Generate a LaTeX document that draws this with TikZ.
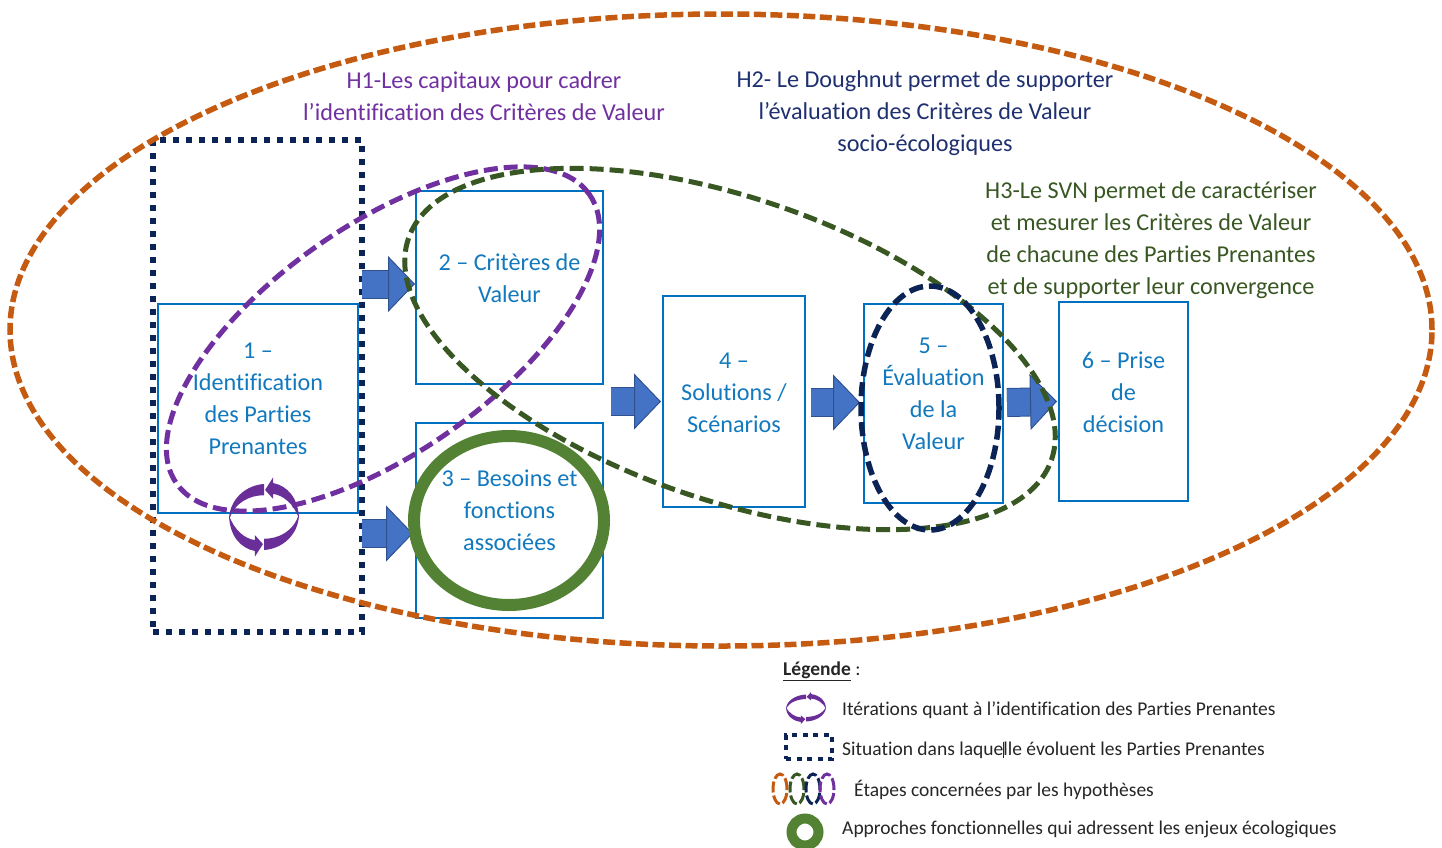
\documentclass[tikz,border=0pt]{standalone}
\usepackage{fontspec}
\setmainfont{Carlito}[Ligatures=NoCommon]
\usepackage{xcolor}
\usetikzlibrary{shapes,arrows.meta,positioning,calc}

\definecolor{hypoorange}{HTML}{C55A11}
\definecolor{hypopurple}{HTML}{7030A0}
\definecolor{hypogreen}{HTML}{385723}
\definecolor{hyponavy}{HTML}{0C2355}
\definecolor{boxblue}{HTML}{0070C0}
\definecolor{textblue}{HTML}{1279BE}
\definecolor{ringgreen}{HTML}{548235}
\definecolor{blockblue}{HTML}{4472C4}
\definecolor{blockedge}{HTML}{2F528F}
\definecolor{titlenavy}{HTML}{1F3070}
\definecolor{legendtext}{HTML}{262626}

\tikzset{
    stepbox/.style={draw=boxblue, line width=2pt, inner sep=0pt},
    steptext/.style={text=textblue, align=center, font=\fontsize{24.2}{32}\selectfont},
    hypotext/.style={align=center, font=\fontsize{24.2}{32}\selectfont},
    legendlabel/.style={anchor=west, inner sep=0pt, text=legendtext, font=\fontsize{19.5}{20}\selectfont},
    hypoloop/.style={ellipse, draw=#1, inner sep=0pt, line width=5pt, dash pattern=on 14pt off 6pt},
    blockline/.style={draw=blockedge, line width=1pt, double=blockblue, double distance=27pt,
        -{Triangle[length=27pt,width=56pt,fill=blockblue,line width=1pt]}},
    situation/.style={draw=hyponavy, line width=6pt, dash pattern=on 6pt off 7pt, inner sep=0pt},
    iterloop/.pic={
        \foreach \s in {1,-1} {
            \begin{scope}[xscale=\s,yscale=\s]
                \fill[hypopurple!95!black] (-1,-0.1) .. controls (-1,0.55) and (-0.5,0.97) .. (0,1)
                    -- (0,0.66) .. controls (-0.4,0.66) and (-0.85,0.45) .. cycle;
                \fill[hypopurple!95!black] (0.03,0.82) -- (0.26,1.2) -- (0.26,1.03) .. controls (0.65,0.95) and (0.98,0.6) .. (1,-0.05)
                    .. controls (0.85,0.4) and (0.55,0.66) .. (0.26,0.7) -- (0.26,0.55) -- cycle;
            \end{scope}
        }
    }
}

\begin{document}
\begin{tikzpicture}[x=1pt,y=-1pt]
    \useasboundingbox (0,0) rectangle (1442,847);

    % Etapes
    \node[stepbox, minimum width=200pt, minimum height=209pt] (box1) at (258,408.5) {};
    \node[stepbox, minimum width=187pt, minimum height=193pt] (box2) at (509.5,287.5) {};
    \node[stepbox, minimum width=187pt, minimum height=195pt] (box3) at (509.5,520.5) {};
    \node[stepbox, minimum width=142pt, minimum height=211pt] (box4) at (734,401.5) {};
    \node[stepbox, minimum width=139pt, minimum height=199pt] (box5) at (933.5,403.5) {};
    \node[stepbox, minimum width=129pt, minimum height=199pt] (box6) at (1123.5,401.5) {};

    % Situation
    \node[situation, minimum width=209pt, minimum height=492pt] (situationbox) at (257.5,386) {};

    % Fleches
    \draw[blockline] ([xshift=3pt,yshift=3.5pt]box1.east |- box2.west) -- ([yshift=3.5pt]box2.west);
    \draw[blockline] ([xshift=3pt,yshift=-13pt]box1.east |- box3.west) -- ([xshift=-2pt,yshift=-13pt]box3.west);
    \draw[blockline] ([xshift=7pt]box3.east |- box4.west) -- ([xshift=-1pt]box4.west);
    \draw[blockline] ([xshift=5pt,yshift=-1pt]box4.east) -- ([xshift=-3pt,yshift=1pt]box5.west);
    \draw[blockline] ([xshift=3pt,yshift=1pt]box5.east) -- ([xshift=-1pt]box6.west);

    % Hypotheses
    \node[hypoloop=hypoorange, line width=5.5pt, dash pattern=on 12pt off 4.5pt, minimum width=1422pt, minimum height=632pt] (hypoall) at (721,330) {};
    \node[hypoloop=hypopurple, minimum width=504pt, minimum height=228pt, rotate=35] (hypoone) at (383,339) {};
    \node[hypoloop=hypogreen, minimum width=680pt, minimum height=302pt, rotate=-19] (hypothree) at (730,349) {};
    \node[hypoloop=hyponavy, line width=5.5pt, minimum width=138pt, minimum height=244pt] (hypotwo) at (930,408) {};
    \node[ellipse, draw=ringgreen, line width=12pt, inner sep=0pt, minimum width=190pt, minimum height=169pt] (ringthree) at (509,520.5) {};

    % Textes des etapes
    \node[steptext] (label1) at ([yshift=9.5pt]box1) {1 --\\Identification\\des Parties\\Prenantes};
    \node[steptext] (label2) at ([yshift=9pt]box2) {2 -- Critères de\\Valeur};
    \node[steptext] (label3) at ([yshift=10pt]box3) {3 -- Besoins et\\fonctions\\associées};
    \node[steptext] (label4) at ([yshift=9pt]box4) {4 --\\Solutions /\\Scénarios};
    \node[steptext] (label5) at ([yshift=10pt]box5) {5 --\\Évaluation\\de la\\Valeur};
    \node[steptext] (label6) at ([yshift=9pt]box6) {6 -- Prise\\de\\décision};

    % Textes des hypotheses
    \node[hypotext, text=hypopurple] (textone) at (484,96.5) {H1-Les capitaux pour cadrer\\l’identification des Critères de Valeur};
    \node[hypotext, text=titlenavy] (texttwo) at (925,113) {H2- Le Doughnut permet de supporter\\l’évaluation des Critères de Valeur\\socio-écologiques};
    \node[hypotext, text=hypogreen] (textthree) at (1151,240) {H3-Le SVN permet de caractériser\\et mesurer les Critères de Valeur\\de chacune des Parties Prenantes\\et de supporter leur convergence};

    % Iterations
    \path (264,517) pic[x=35pt,y=33pt] {iterloop};

    % Legende
    \node[legendlabel] (legendtitle) at (783,671) {\underline{\textbf{Légende}} :};
    \path (806,708) pic[x=20pt,y=13.5pt] {iterloop};
    \node[legendlabel] (legendone) at (842,710) {Itérations quant à l’identification des Parties Prenantes};
    \node[draw=hyponavy, line width=4.5pt, dash pattern=on 5pt off 5.5pt, inner sep=0pt, minimum width=46pt, minimum height=24pt] (legendbox) at (809,747) {};
    \node[legendlabel] (legendtwo) at (842,750) {Situation dans laque\rule[-3pt]{0.6pt}{16pt}\kern-0.6pt lle évoluent les Parties Prenantes};
    \foreach \name/\col/\px in {a/hypoorange/780,b/hypogreen/797,c/hyponavy/813,d/hypopurple/827} {
        \node[hypoloop=\col, line width=3pt, dash pattern=on 11pt off 3pt, minimum width=14pt, minimum height=30pt] (legendloop\name) at (\px,789) {};
    }
    \node[legendlabel] (legendthree) at (854,790) {Étapes concernées par les hypothèses};
    \node[ellipse, draw=ringgreen, line width=10pt, inner sep=0pt, minimum width=27pt, minimum height=27pt] (legendring) at (805,832) {};
    \node[legendlabel] (legendfour) at (842,829) {Approches fonctionnelles qui adressent les enjeux écologiques};
\end{tikzpicture}
\end{document}
